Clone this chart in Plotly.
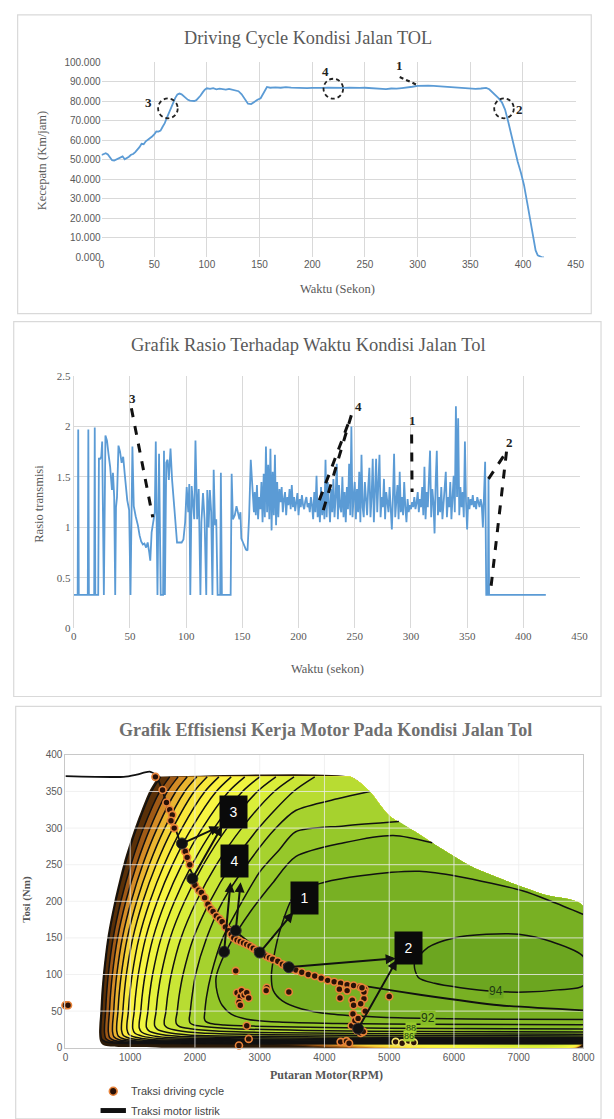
import plotly.graph_objects as go

W, H = 614, 1119
def px(x): return x / W
def py(y): return 1 - y / H

BLUE = '#5b9bd5'
GRID = '#d9d9d9'
TXT = '#595959'
SERIF = 'Liberation Serif'
SANS = 'Liberation Sans'

# ---------------- Panel 1: driving cycle ----------------
SPEED_T = [0, 2, 4, 6, 8, 10, 12, 14, 16, 18, 20, 22, 24, 26, 28, 30, 32, 34, 36, 38, 40, 42, 44, 46, 48, 50,
           52, 54, 56, 58, 60, 62, 64, 66, 68, 70, 72, 74, 76, 78, 80, 82, 84, 86, 88, 90, 92, 94, 96, 98, 100,
           103, 106, 109, 112, 115, 118, 121, 124, 127, 130, 133, 136, 139, 142, 145, 148, 151, 154, 157, 160,
           165, 170, 175, 180, 185, 190, 195, 200, 205, 210, 215, 220, 225, 230, 235, 240, 245, 250, 255, 260,
           265, 270, 275, 280, 285, 290, 295, 300, 305, 310, 315, 320, 325, 330, 335, 340, 345, 350, 355, 360,
           365, 368, 371, 374, 377, 380, 383, 386, 389, 392, 395, 398, 401, 404, 407, 410, 412, 414, 416, 418, 420]
SPEED_V = [52.5, 53.0, 53.4, 52.8, 51.0, 49.8, 49.6, 50.2, 50.6, 51.2, 51.8, 50.3, 50.8, 51.6, 52.6, 53.0, 54.0,
           55.2, 56.5, 58.2, 58.0, 59.5, 60.2, 61.0, 62.0, 63.0, 64.6, 64.5, 65.0, 67.0, 68.8, 71.5, 74.2, 76.8,
           79.4, 81.8, 83.5, 84.0, 83.6, 82.6, 81.5, 80.8, 80.4, 80.3, 80.2, 80.6, 81.6, 83.0, 84.6, 86.0, 86.7,
           86.4, 86.8, 86.2, 86.5, 86.3, 86.0, 86.4, 86.1, 85.8, 85.2, 83.6, 81.2, 78.8, 78.6, 79.8, 80.8, 81.6,
           84.8, 87.4, 87.0,
           87.2, 87.0, 87.3, 87.1, 86.9, 87.0, 86.8, 86.9, 86.8, 86.9, 87.0, 86.9, 87.1, 86.9, 87.0, 86.8, 86.9,
           87.0, 86.8, 86.7, 86.5, 86.3, 86.6, 86.5, 86.8, 87.0, 87.5, 88.0, 88.2, 88.1, 87.9, 87.7, 87.4, 87.2,
           87.0, 86.8, 86.5, 86.3, 86.4, 86.6,
           86.9, 86.2, 84.8, 83.3, 81.5, 79.5, 75.8, 69.5, 62.5, 54.5, 49.0, 43.5, 37.0, 28.0, 18.5, 8.5, 3.5,
           1.0, 0.3, 0.0, 0.0]

P1_CIRCLES = [(63, 76.4), (220, 86.5), (382, 76.4)]
P1_CIRCLE_R = (9.3, 5.1)  # radius in axis units (x seconds, y km/h)
P1_LABELS = [('3', 45, 79.5), ('4', 213, 95.3), ('1', 283, 98.3), ('2', 397, 75.6)]
P1_DASH = [(283, 92.5), (298.4, 88.7)]

# ---------------- Panel 2: transmission ratio ----------------
RATIO_T_A = [0, 3.5, 4, 4.5, 12.5, 13, 13.5, 18.2, 18.7, 19.2, 21.8, 22.4, 23.5, 24.5, 25.3, 26.8, 28.2, 29.6,
             31, 32.4, 34, 34.9, 36, 36.9, 37.6, 38.5, 39.8, 41.2, 42.6, 44, 45.6, 46.5, 47.6, 49.3, 50.5, 52.2,
             53.4, 55.1, 57.1, 58.6, 60, 61.5, 62.9, 64.4, 65.8, 67.2, 68.1, 69.3, 70.7, 72.1, 73, 74.5, 75.9,
             77.4, 79.5, 80.3, 81.1, 82.3, 83.5, 84.6, 86.1, 87.5, 89.8, 91.9, 94, 96, 97.6, 99.1, 100.5, 101.9,
             102.8, 103.7, 104.9, 107.2, 108.3, 109.8, 111.2, 112.7, 113.6, 115, 116.4, 117.9, 118.8, 120, 121.1,
             122.3, 123.4, 124.5, 125.7, 126.8, 128, 130.3, 130.9, 131.8, 139.6, 140.5, 141.6, 143.3, 144.8, 146,
             147.4, 148.3, 149.1, 150.6, 152, 153.2, 154.6, 156, 157.5, 159, 160.3]
RATIO_R_A = [0.33, 0.33, 1.97, 0.33, 0.33, 1.97, 0.33, 0.33, 1.99, 0.33, 0.33, 1.68, 1.68, 1.7, 1.85, 0.33, 1.91,
             1.86, 1.72, 1.6, 1.37, 1.54, 1.3, 0.33, 1.2, 1.3, 1.81, 1.75, 1.64, 1.7, 1.5, 1.4, 1.27, 1.17, 0.33,
             1.8, 1.21, 1.11, 1.02, 0.92, 0.86, 0.83, 0.84, 0.8, 0.85, 0.75, 0.67, 0.95, 1.05, 1.15, 1.85, 0.33,
             1.73, 0.33, 0.33, 1.76, 0.33, 1.64, 1.67, 1.47, 1.78, 1.47, 1.15, 0.85, 0.85, 0.85, 0.88, 1.05, 1.4,
             1.15, 1.43, 0.33, 1.41, 1.08, 1.86, 1.08, 1.38, 0.33, 1.05, 1.34, 1.08, 0.33, 1.37, 1.0, 1.37, 1.15,
             0.33, 1.57, 1.02, 1.08, 0.33, 0.33, 1.54, 0.33, 0.33, 1.53, 1.08, 1.12, 1.21, 1.15, 1.08, 1.15, 0.89,
             0.85, 0.81, 0.78, 0.77, 1.1, 1.67, 1.4, 1.15]
RATIO_B_START = 161  # one sample per second from here
RATIO_R_B = [1.35, 1.12, 1.42, 1.08, 1.30, 1.18, 1.45, 1.05, 1.53, 1.10,
             1.80, 1.15, 1.62, 1.08, 1.78, 0.97, 1.55, 1.12, 1.72, 1.02,
             1.45, 1.10, 1.38, 1.25, 1.40, 1.15, 1.28, 1.35, 1.12, 1.30,
             1.22, 1.38, 1.18, 1.42, 1.20, 1.30, 1.16, 1.25, 1.34, 1.12,
             1.28, 1.20, 1.32, 1.22, 1.18, 1.26, 1.30, 1.20, 1.24, 1.15,
             1.30, 1.22, 1.08, 1.35, 1.15, 1.51, 1.10, 1.28, 1.05, 1.40,
             1.12, 1.35, 1.08, 1.67, 1.10, 1.45, 1.22, 1.05, 1.38, 1.15,
             1.48, 1.10, 1.30, 1.63, 1.08, 1.42, 1.20, 1.15, 1.50, 1.10,
             1.35, 1.05, 1.40, 1.18, 1.63, 1.12, 2.00, 1.10, 1.30, 1.45,
             1.08, 1.38, 1.15, 1.55, 1.05, 1.72, 1.20, 1.10, 1.45, 1.25,
             1.12, 1.40, 1.59, 1.10, 1.30, 1.68, 1.05, 1.35, 1.68, 1.15,
             1.42, 1.72, 1.10, 1.30, 1.20, 1.48, 1.08, 1.35, 1.25, 1.15,
             1.40, 1.18, 0.98, 1.30, 1.73, 1.10, 1.25, 1.42, 1.08, 1.55,
             1.15, 1.30, 1.12, 1.45, 1.20, 1.05, 1.28, 1.15, 1.22, 1.18,
             1.25, 1.20, 1.30, 1.18, 1.24, 1.35, 1.15, 1.28, 1.20, 1.40,
             1.12, 1.60, 1.08, 1.35, 1.20, 1.50, 1.76, 1.10, 1.38, 1.25,
             0.94, 1.45, 1.76, 1.12, 1.30, 1.15, 1.40, 1.08, 1.25, 1.35,
             1.55, 1.10, 1.30, 1.20, 1.45, 1.08, 1.25, 1.51, 1.15, 2.20,
             1.30, 2.08, 1.12, 1.40, 1.20, 1.35, 1.10, 1.85, 1.25, 0.98,
             1.30, 1.18, 1.28, 1.22, 1.32, 1.20, 1.26, 1.18, 1.30, 1.24,
             1.20, 1.28, 1.22, 1.00, 1.25, 1.65]
RATIO_T_C = [367, 368.5, 369, 369.5, 420]
RATIO_R_C = [0.33, 0.33, 1.5, 0.33, 0.33]

P2_DASHES = [((51.3, 2.18), (70.3, 1.1)),
             ((218.5, 1.27), (246, 2.08)), ((222, 1.17), (248, 2.15)),
             ((300.6, 1.92), (301.0, 1.35)),
             ((369, 1.48), (385, 1.75)), ((385, 1.75), (370.5, 0.34))]
P2_LABELS = [('3', 52, 2.28), ('4', 253.5, 2.2), ('1', 301.2, 2.06), ('2', 388, 1.84)]

# ---------------- Panel 3: motor efficiency map ----------------
ENVELOPE = [(1470, 370), (4400, 370), (4550, 362), (4720, 348), (5000, 317), (5400, 295), (5800, 272),
            (6300, 246), (6800, 228), (7400, 209), (8000, 193)]
BASE = [(1445, 372), (1305, 352), (1075, 301), (896, 251), (755, 200), (646, 150), (578, 100), (551, 70),
        (537, 47), (524, 32), (520, 20), (532, 10), (575, 4), (700, 1.5), (1200, 0.8), (8000, 0.8)]
C60 = [(1470, 370), (1330, 350), (1100, 300), (920, 250), (778, 200), (669, 150), (600, 100), (574, 70), (560, 47),
       (548, 32), (545, 20), (560, 12), (620, 8.2), (760, 6.5), (1200, 5.8), (3000, 5.4), (8000, 5.25)]
C62 = [(1610, 370), (1457, 350), (1206, 300), (1011, 250), (856, 200), (737, 150), (662, 100), (633, 70), (618, 47),
       (605, 32), (603, 21), (620, 13), (690, 9), (850, 7.1), (1350, 6.3), (3200, 5.9), (8000, 5.7)]
C64 = [(1740, 370), (1576, 350), (1308, 300), (1099, 250), (933, 200), (805, 150), (725, 100), (694, 70), (678, 47),
       (664, 32), (662, 22), (682, 14), (755, 9.8), (930, 7.8), (1500, 6.9), (3400, 6.4), (8000, 6.2)]
C66 = [(1880, 370), (1705, 350), (1417, 300), (1193, 250), (1016, 200), (879, 150), (793, 100), (760, 70), (743, 47),
       (728, 32), (727, 22), (748, 15), (830, 10.8), (1020, 8.5), (1650, 7.5), (3600, 7.0), (8000, 6.8)]
C68 = [(2030, 370), (1842, 350), (1533, 300), (1293, 250), (1102, 200), (956, 150), (863, 100), (827, 70), (809, 47),
       (793, 33), (792, 23), (815, 16), (905, 11.8), (1110, 9.3), (1800, 8.2), (3800, 7.6), (8000, 7.4)]
C70 = [(2190, 370), (1989, 350), (1659, 300), (1401, 250), (1197, 200), (1041, 150), (941, 100), (904, 70), (884, 47),
       (867, 33), (866, 24), (892, 17), (990, 13), (1210, 10.3), (1950, 9.1), (4000, 8.4), (8000, 8.2)]
C72 = [(2370, 370), (2154, 350), (1800, 300), (1524, 250), (1305, 200), (1137, 150), (1031, 100), (990, 70), (969, 47),
       (950, 33), (950, 25), (978, 18.5), (1085, 14.2), (1330, 11.3), (2100, 10), (4200, 9.2), (8000, 9.0)]
C74 = [(2560, 370), (2329, 350), (1949, 300), (1653, 250), (1419, 200), (1239, 150), (1125, 100), (1082, 70),
       (1059, 47), (1040, 34), (1040, 26), (1070, 20), (1185, 15.8), (1450, 12.5), (2300, 11.1), (4400, 10.3),
       (8000, 10)]
C76 = [(2770, 370), (2522, 350), (2115, 300), (1798, 250), (1546, 200), (1353, 150), (1231, 100), (1184, 70),
       (1160, 47), (1140, 35), (1140, 27), (1175, 21.5), (1300, 17.2), (1590, 13.8), (2500, 12.2), (4600, 11.3),
       (8000, 11)]
C78 = [(3000, 370), (2734, 350), (2296, 300), (1955, 250), (1685, 200), (1478, 150), (1346, 100), (1296, 70),
       (1270, 47), (1250, 35), (1250, 28), (1290, 23), (1420, 19), (1740, 15.5), (2700, 13.8), (4800, 12.7),
       (8000, 12.4)]
C80 = [(3250, 370), (2964, 350), (2495, 300), (2130, 250), (1841, 200), (1618, 150), (1478, 100), (1424, 70),
       (1396, 47), (1376, 36), (1378, 30), (1420, 25), (1560, 21), (1900, 17.5), (2900, 15.6), (5000, 14.4),
       (8000, 14)]
C82 = [(3530, 370), (3225, 350), (2723, 300), (2332, 250), (2023, 200), (1785, 150), (1634, 100), (1577, 70),
       (1547, 47), (1526, 37), (1530, 31), (1575, 27), (1730, 23.5), (2100, 20), (3150, 17.8), (5200, 16.4),
       (8000, 16)]
C84 = [(3850, 370), (3522, 350), (2984, 300), (2565, 250), (2233, 200), (1977, 150), (1816, 100), (1754, 70),
       (1722, 47), (1705, 38), (1712, 33), (1760, 29), (1930, 26), (2330, 22.8), (3400, 20.4), (5400, 18.9),
       (8000, 18.4)]
C86 = [(4700, 350), (4200, 340), (3556, 324), (3250, 300), (2800, 250), (2430, 200), (2180, 150), (2010, 100),
       (1955, 70), (1924, 47), (1912, 39), (1925, 34), (1985, 31), (2170, 28.5), (2600, 26), (3700, 23.6),
       (5600, 22), (8000, 21.5)]
C88 = [(5150, 309), (4300, 303), (3556, 295), (3300, 270), (3000, 240), (2730, 200), (2430, 150), (2250, 100),
       (2180, 70), (2150, 47), (2145, 40), (2165, 36), (2240, 33), (2450, 31), (2900, 29.5), (4000, 27.5),
       (5800, 26.2), (8000, 25.7)]
C90 = [(5665, 280), (5062, 290), (4300, 280), (3556, 261), (3200, 225), (2850, 185), (2560, 145), (2380, 112),
       (2325, 95), (2345, 75), (2420, 58), (2560, 46), (2800, 39), (3300, 35), (4200, 33), (5500, 32), (8000, 31.5)]
C92 = [(8000, 182), (7500, 200), (7071, 214), (6067, 234), (5464, 241), (4560, 235), (4000, 226), (3556, 211),
       (3330, 165), (3220, 125), (3180, 97), (3210, 78), (3350, 64), (3650, 53), (4100, 46), (4800, 42),
       (5600, 40), (6800, 39), (8000, 38.5)]
C94 = [(8000, 124), (7500, 145), (7000, 155), (6500, 155), (6000, 150), (5600, 137), (5390, 115), (5450, 96),
       (5700, 88), (6100, 82), (6600, 77), (7100, 76), (7600, 79), (8000, 85)]
LEVEL_COLORS = ['#5a3008', '#a05a16', '#d48c26', '#eab430', '#f5d438', '#f9e83c', '#fbf240', '#f8f642',
                '#f0f540', '#e6f23c', '#daee3a', '#cae636', '#b8dc32', '#a6d22e', '#96c82a', '#86bc26',
                '#78b023', '#6ca620']
LEVEL_PATHS = [C60, C62, C64, C66, C68, C70, C72, C74, C76, C78, C80, C82, C84, C86, C88, C90, C92, C94]
CONTOUR_LABELS = [('94', 6650, 77, '#6ca620'), ('92', 5600, 40, '#86bc26'), ('88', 5330, 27, '#96c82a'),
                  ('86', 5300, 16, '#a6d22e')]

TRACTION = [(0, 371), (900, 370), (1100, 373), (1300, 377), (1400, 372), (1520, 345), (1650, 312), (1770, 281),
            (1920, 245), (2120, 210), (2380, 178), (2680, 155), (2980, 135), (3380, 114), (3780, 101), (4100, 92),
            (4700, 83), (5500, 72), (6700, 58), (8000, 51)]
CYCLE_RPM = [0, 40, 1390, 1500, 1560, 1610, 1650, 1630, 1680, 1850, 1880, 1920, 2000, 2060, 2100, 2150, 2200, 2240,
             2280, 2330, 2380, 2420, 2470, 2520, 2560, 2600, 2650, 2700, 2750, 2800, 2850, 2900, 2950, 3050, 3100,
             3150, 3200, 3280, 3350, 3400, 3500, 3560, 3650, 3750, 3850, 3950, 4050, 4150, 4250, 4350, 4450, 4550,
             4620, 2630, 2650, 2700, 2720, 2760, 2800, 2830, 2680, 2700, 3110, 3100, 3450, 2800, 2830, 2680, 4230,
             4240, 4350, 4430, 4450, 4440, 4420, 4470, 4500, 4560, 4600, 4610, 4610, 4580, 4630, 4560, 4520, 4250,
             4340, 4380, 5000]
CYCLE_TQ = [58, 58, 370, 352, 335, 325, 318, 310, 300, 268, 260, 250, 222, 215, 212, 205, 196, 190, 186, 180, 176,
            172, 165, 160, 155, 150, 147, 145, 143, 141, 139, 136, 133, 128, 125, 123, 121, 118, 114, 112, 108, 106,
            103, 100, 98, 95, 92, 90, 88, 86, 85, 83, 80, 105, 75, 70, 78, 72, 75, 68, 62, 58, 82, 78, 76, 30, 12,
            3, 80, 68, 78, 65, 58, 46, 30, 37, 24, 20, 22, 67, 76, 82, 50, 60, 40, 8, 9, 6, 70]
LOWSPEED_RPM = [5100, 5200, 5300, 5380]
LOWSPEED_TQ = [8, 6, 9, 7]
BIG_RPM = [1800, 1960, 2450, 2630, 3000, 3450, 4520]
BIG_TQ = [279, 231, 131, 160, 130, 110, 26]
ARROWS = [((1800, 279), (2380, 302)), ((1960, 231), (2420, 303)), ((2450, 131), (2550, 226)),
          ((2630, 160), (2705, 226)), ((3000, 130), (3520, 185)), ((3450, 110), (5100, 122)),
          ((4520, 26), (5120, 120))]
BOXES = [('3', 2596, 322), ('4', 2606, 255), ('1', 3693, 205), ('2', 5303, 136)]

fig = go.Figure()

# Panel 1
fig.add_trace(go.Scatter(x=SPEED_T, y=SPEED_V, mode='lines', line=dict(color=BLUE, width=1.8),
                         xaxis='x', yaxis='y', showlegend=False))
# Panel 2
ratio_t = RATIO_T_A + [RATIO_B_START + i for i in range(len(RATIO_R_B))] + RATIO_T_C
ratio_r = RATIO_R_A + RATIO_R_B + RATIO_R_C
fig.add_trace(go.Scatter(x=ratio_t, y=ratio_r, mode='lines', line=dict(color=BLUE, width=1.8),
                         xaxis='x2', yaxis='y2', showlegend=False))

# Panel 3 map
def closing(path):
    s = path[0]
    if s[0] >= 8000:
        return []
    pts = [(8000, 193)]
    for r, t in reversed(ENVELOPE):
        if s[0] < r < 8000:
            pts.append((r, t))
    return pts

def add_poly(path, color):
    full = path + closing(path)
    fig.add_trace(go.Scatter(x=[p[0] for p in full], y=[p[1] for p in full], mode='lines', fill='toself',
                             fillcolor=color, line=dict(width=0, shape='spline', smoothing=0.8),
                             xaxis='x3', yaxis='y3', showlegend=False, hoverinfo='skip'))

add_poly(BASE, '#2a1a08')
for path, col in zip(LEVEL_PATHS, LEVEL_COLORS):
    add_poly(path, col)
for path in LEVEL_PATHS:
    pts = path + ([path[0]] if path is C94 else [])
    fig.add_trace(go.Scatter(x=[p[0] for p in pts], y=[p[1] for p in pts], mode='lines',
                             line=dict(color='#111', width=1.5, shape='spline', smoothing=0.8),
                             xaxis='x3', yaxis='y3', showlegend=False, hoverinfo='skip'))
# grid over map
gx, gy = [], []
for r in range(1000, 8000, 1000):
    gx += [r, r, None]; gy += [0, 400, None]
for t in range(50, 400, 50):
    gx += [0, 8000, None]; gy += [t, t, None]
fig.add_trace(go.Scatter(x=gx, y=gy, mode='lines', line=dict(color='rgba(238,238,238,0.8)', width=1),
                         xaxis='x3', yaxis='y3', showlegend=False, hoverinfo='skip'))
fig.add_trace(go.Scatter(x=[p[0] for p in TRACTION], y=[p[1] for p in TRACTION], mode='lines',
                         line=dict(color='#111', width=1.8, shape='spline', smoothing=0.6),
                         xaxis='x3', yaxis='y3', showlegend=False))
fig.add_trace(go.Scatter(x=CYCLE_RPM, y=CYCLE_TQ, mode='markers', cliponaxis=False,
                         marker=dict(size=7, color='#2a1208', line=dict(color='#e8833a', width=1.6)),
                         xaxis='x3', yaxis='y3', showlegend=False))
fig.add_trace(go.Scatter(x=LOWSPEED_RPM, y=LOWSPEED_TQ, mode='markers',
                         marker=dict(size=7, color='#2a1208', line=dict(color='#f3e36a', width=1.6)),
                         xaxis='x3', yaxis='y3', showlegend=False))
fig.add_trace(go.Scatter(x=BIG_RPM, y=BIG_TQ, mode='markers',
                         marker=dict(size=11, color='#111', line=dict(color='#333', width=1)),
                         xaxis='x3', yaxis='y3', showlegend=False))

shapes, ann = [], []
# frames
for (x0, y0, x1, y1) in [(15, 9, 603, 311), (11, 319, 613, 698), (13, 708, 613, 1125)]:
    shapes.append(dict(type='rect', xref='paper', yref='paper', x0=px(x0), x1=px(x1), y0=py(y1), y1=py(y0),
                       line=dict(color='#d9d9d9', width=1.2), layer='below'))
# panel1 circles & marks
rx, ry = P1_CIRCLE_R
for (cx, cy) in P1_CIRCLES:
    shapes.append(dict(type='circle', xref='x', yref='y', x0=cx - rx, x1=cx + rx, y0=cy - ry, y1=cy + ry,
                       line=dict(color='#222', width=1.8, dash='4px,3px')))
shapes.append(dict(type='line', xref='x', yref='y', x0=P1_DASH[0][0], y0=P1_DASH[0][1], x1=P1_DASH[1][0],
                   y1=P1_DASH[1][1], line=dict(color='#222', width=2.2, dash='4px,3px')))
for (t, x, y) in P1_LABELS:
    ann.append(dict(text='<b>%s</b>' % t, x=x, y=y, xref='x', yref='y', showarrow=False,
                    font=dict(family=SERIF, size=13, color='#222')))
# panel2 dashes
for (a, b) in P2_DASHES:
    shapes.append(dict(type='line', xref='x2', yref='y2', x0=a[0], y0=a[1], x1=b[0], y1=b[1],
                       line=dict(color='#111', width=3, dash='dash')))
for (t, x, y) in P2_LABELS:
    ann.append(dict(text='<b>%s</b>' % t, x=x, y=y, xref='x2', yref='y2', showarrow=False,
                    font=dict(family=SERIF, size=13, color='#222')))
# panel3 arrows, boxes, labels
for (tail, head) in ARROWS:
    ann.append(dict(x=head[0], y=head[1], ax=tail[0], ay=tail[1], xref='x3', yref='y3', axref='x3', ayref='y3',
                    text='', showarrow=True, arrowhead=2, arrowsize=1, arrowwidth=2, arrowcolor='#111'))
for (t, x, y) in BOXES:
    ann.append(dict(text=t, x=x, y=y, xref='x3', yref='y3', showarrow=False, bgcolor='#0a0a0a', width=25,
                    height=30, font=dict(family=SANS, size=14, color='white')))
for (t, x, y, bg) in CONTOUR_LABELS:
    ann.append(dict(text=t, x=x, y=y, xref='x3', yref='y3', showarrow=False, bgcolor=bg, borderpad=0,
                    font=dict(family=SANS, size=12 if t in ('94', '92') else 9, color='#203a12')))

def text(t, x, y, size, family=SERIF, color=TXT, angle=0, xanchor='center'):
    ann.append(dict(text=t, x=px(x), y=py(y), xref='paper', yref='paper', showarrow=False, textangle=angle,
                    xanchor=xanchor, yanchor='middle', font=dict(family=family, size=size, color=color)))

text('Driving Cycle Kondisi Jalan TOL', 313, 32, 18.3)
text('Kecepatn (Km/jam)', 40, 156, 12.5, angle=-90)
text('Waktu (Sekon)', 343, 286, 12.5)
text('Grafik Rasio Terhadap Waktu Kondisi Jalan Tol', 313, 343, 18.5)
text('Rasio transmisi', 36, 503, 12.5, angle=-90)
text('Waktu (sekon)', 333, 670, 12.5)
text('<b>Grafik Effisiensi Kerja Motor Pada Kondisi Jalan Tol</b>', 331, 732, 18, color='#6f6f6f')
text('<b>Tosi (Nm)</b>', 24, 903, 11, color='#555', angle=-90)
text('<b>Putaran Motor(RPM)</b>', 332, 1081, 12, color='#555')
text('Traksi driving cycle', 129, 1097, 11, family=SANS, color='#444', xanchor='left')
text('Traksi motor listrik', 129, 1117, 11, family=SANS, color='#444', xanchor='left')
shapes.append(dict(type='circle', xref='paper', yref='paper', x0=px(109), x1=px(117), y0=py(1101), y1=py(1093),
                   fillcolor='#2a1208', line=dict(color='#e8833a', width=1.6)))
shapes.append(dict(type='rect', xref='paper', yref='paper', x0=px(100), x1=px(126), y0=py(1119), y1=py(1114),
                   fillcolor='#111', line=dict(width=0)))

tick = dict(family=SANS, size=10, color=TXT)
fig.update_layout(
    width=W, height=H, autosize=False, margin=dict(l=0, r=0, t=0, b=0),
    paper_bgcolor='white', plot_bgcolor='white', shapes=shapes, annotations=ann,
    xaxis=dict(domain=[px(101), px(587)], anchor='y', range=[0, 450], dtick=50, showgrid=True, gridcolor=GRID,
               zeroline=False, showline=False, ticks='', tickfont=tick),
    yaxis=dict(domain=[py(254), py(57)], anchor='x', range=[0, 100], dtick=10, tickformat='.3f', showgrid=True,
               gridcolor=GRID, zeroline=False, showline=False, ticks='', tickfont=tick),
    xaxis2=dict(domain=[px(72.5), px(591)], anchor='y2', range=[0, 450], dtick=50, showgrid=True, gridcolor=GRID,
                zeroline=False, showline=False, ticks='', tickfont=dict(family=SERIF, size=11, color=TXT)),
    yaxis2=dict(domain=[py(629), py(374)], anchor='x2', range=[0, 2.5], dtick=0.5, showgrid=True, gridcolor=GRID,
                zeroline=False, showline=True, linecolor=GRID, ticks='',
                tickfont=dict(family=SERIF, size=11, color=TXT)),
    xaxis3=dict(domain=[px(64), px(595)], anchor='y3', range=[0, 8000], dtick=1000, showgrid=False,
                zeroline=False, showline=True, mirror=True, linecolor='#c8c8c8', ticks='', tickfont=tick),
    yaxis3=dict(domain=[py(1053), py(757)], anchor='x3', range=[0, 400], dtick=50, showgrid=False,
                zeroline=False, showline=True, mirror=True, linecolor='#c8c8c8', ticks='', tickfont=tick),
)
fig.write_html("out.html", config={'displayModeBar': False})
